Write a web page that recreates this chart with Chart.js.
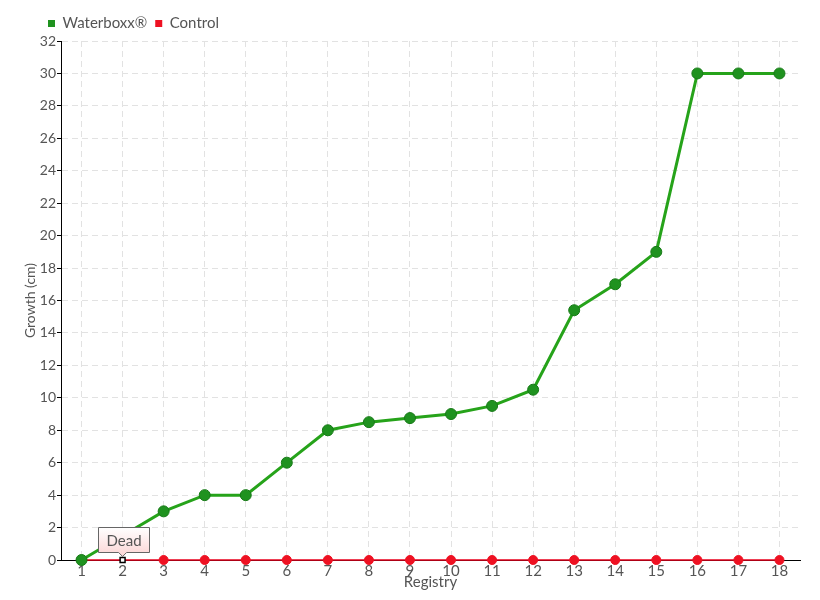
<!DOCTYPE html>
<html><head><meta charset="utf-8">
<script src="https://cdn.jsdelivr.net/npm/chart.js@4"></script>
<style>html,body{margin:0;padding:0;background:#fff}#wrap{width:820px;height:600px}</style>
</head><body><div id="wrap"><canvas id="c" width="820" height="600"></canvas></div>
<script>
const categories = ['1','2','3','4','5','6','7','8','9','10','11','12','13','14','15','16','17','18'];
const waterboxx = [0, 1.5, 3, 4, 4, 6, 8, 8.5, 8.75, 9, 9.5, 10.5, 15.4, 17, 19, 30, 30, 30];
const control = [0,0,0,0,0,0,0,0,0,0,0,0,0,0,0,0,0,0];
const seriesNames = ['Waterboxx®', 'Control'];
const noteIndex = 1;
const noteText = 'Dead';

const FONT = "Lato, 'DejaVu Sans', sans-serif";
Chart.defaults.font.family = FONT;
Chart.defaults.font.size = 15;
Chart.defaults.color = '#555';

const notePlugin = {
  id: 'note',
  afterLayout(chart) {
    if (chart.legend) { chart.legend.left += 18; chart.legend.right += 18; }
  },
  afterDatasetsDraw(chart) {
    const el = chart.getDatasetMeta(1).data[noteIndex];
    if (!el) return;
    const ctx = chart.ctx;
    const px = el.x, py = el.y;
    const w = 51, h = 25, gap = 8;
    const x0 = Math.round(px - 25) + 0.5, y0 = Math.round(py - gap - h) + 0.5;
    ctx.save();
    const g = ctx.createLinearGradient(0, y0, 0, y0 + h);
    g.addColorStop(0, '#ffffff');
    g.addColorStop(1, '#fcdada');
    ctx.beginPath();
    ctx.moveTo(x0, y0);
    ctx.lineTo(x0 + w, y0);
    ctx.lineTo(x0 + w, y0 + h);
    ctx.lineTo(px + 4, y0 + h);
    ctx.lineTo(px, y0 + h + 4);
    ctx.lineTo(px - 4, y0 + h);
    ctx.lineTo(x0, y0 + h);
    ctx.closePath();
    ctx.fillStyle = g;
    ctx.fill();
    ctx.strokeStyle = '#666';
    ctx.lineWidth = 1;
    ctx.stroke();
    ctx.fillStyle = '#555';
    ctx.font = '15px ' + FONT;
    ctx.textAlign = 'center';
    ctx.textBaseline = 'middle';
    ctx.fillText(noteText, x0 + w / 2, y0 + h / 2 + 1);
    ctx.restore();
  }
};

new Chart(document.getElementById('c'), {
  type: 'line',
  data: {
    labels: categories,
    datasets: [
      {
        label: seriesNames[0], data: waterboxx,
        borderColor: '#26a31a', backgroundColor: '#1f921f',
        pointBackgroundColor: '#1f921f', pointBorderColor: '#177a17',
        borderWidth: 3, pointRadius: 5.5, pointBorderWidth: 1, tension: 0, clip: false
      },
      {
        label: seriesNames[1], data: control,
        borderColor: '#e8001c', backgroundColor: '#ee1122',
        pointBackgroundColor: ctx => ctx.dataIndex === noteIndex ? '#ffffff' : '#ee1122',
        pointBorderColor: ctx => ctx.dataIndex === noteIndex ? '#000000' : '#ee1122',
        pointStyle: ctx => ctx.dataIndex === noteIndex ? 'rect' : 'circle',
        pointRadius: ctx => ctx.dataIndex === noteIndex ? 3.5 : 4.5,
        pointBorderWidth: ctx => ctx.dataIndex === noteIndex ? 1.5 : 1,
        borderWidth: 1.5, tension: 0, clip: false
      }
    ]
  },
  options: {
    responsive: false, animation: false,
    layout: { padding: { left: 22, right: 20, top: 8, bottom: 9 } },
    plugins: {
      legend: {
        position: 'top', align: 'start',
        labels: { boxWidth: 7, boxHeight: 7, padding: 8, font: { size: 15 }, color: '#555',
          generateLabels(chart) {
            return chart.data.datasets.map((d, i) => ({
              text: d.label, fillStyle: d.backgroundColor, strokeStyle: d.backgroundColor,
              lineWidth: 0, datasetIndex: i, fontColor: '#555'
            }));
          }
        }
      },
      tooltip: { enabled: false }
    },
    scales: {
      x: {
        offset: true,
        title: { display: true, text: 'Registry', color: '#555', font: { size: 15 }, padding: { top: -9, bottom: 0 } },
        grid: { color: '#e2e2e2', drawTicks: false, tickLength: 0 },
        border: { color: '#000', width: 1, dash: [6, 4] },
        ticks: { color: '#555', padding: 2, font: { size: 15 }, maxRotation: 0, autoSkip: false }
      },
      y: {
        min: 0, max: 32,
        afterFit(scale) { scale.width = 39; },
        title: { display: true, text: 'Growth (cm)', color: '#555', font: { size: 14 }, padding: { top: 0, bottom: 0 } },
        grid: { color: '#e2e2e2', tickColor: '#000', tickLength: 4, tickBorderDash: [] },
        border: { color: '#000', width: 1, dash: [6, 4] },
        ticks: { stepSize: 2, color: '#555', padding: 1, font: { size: 14 } }
      }
    }
  },
  plugins: [notePlugin]
});
</script>
</body></html>
